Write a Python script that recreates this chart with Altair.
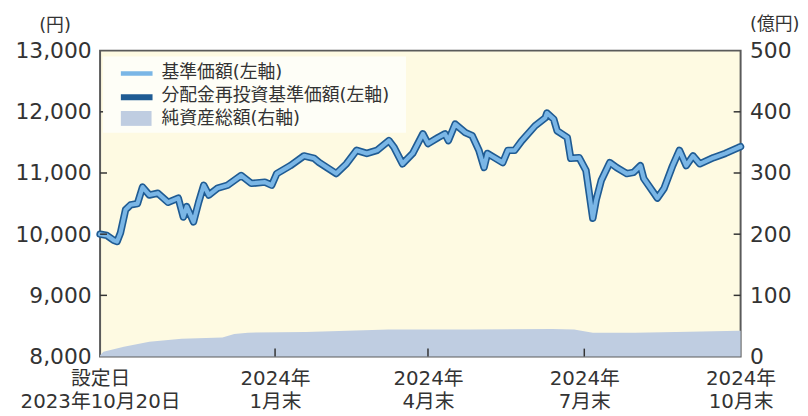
import altair as alt
import pandas as pd

# ---------------- data ----------------
nav_dates = ["2023/10/20","2023/10/24","2023/10/28","2023/10/30","2023/11/01","2023/11/04","2023/11/07","2023/11/11","2023/11/14","2023/11/18",
             "2023/11/23","2023/11/29","2023/12/05","2023/12/08","2023/12/10","2023/12/14","2023/12/17","2023/12/20","2023/12/23","2023/12/28",
             "2024/01/03","2024/01/11","2024/01/17","2024/01/25","2024/01/29","2024/02/01","2024/02/09","2024/02/17","2024/02/23","2024/02/26",
             "2024/03/07","2024/03/13","2024/03/19","2024/03/25","2024/03/31","2024/04/07","2024/04/10","2024/04/15","2024/04/21","2024/04/27",
             "2024/04/30","2024/05/06","2024/05/10","2024/05/12","2024/05/16","2024/05/22","2024/05/26","2024/05/30","2024/06/02","2024/06/04",
             "2024/06/13","2024/06/16","2024/06/20","2024/06/24","2024/07/02","2024/07/08","2024/07/09","2024/07/13","2024/07/15","2024/07/21",
             "2024/07/23","2024/07/28","2024/08/01","2024/08/05","2024/08/07","2024/08/10","2024/08/15","2024/08/19","2024/08/25","2024/08/29",
             "2024/09/02","2024/09/04","2024/09/10","2024/09/12","2024/09/16","2024/09/21","2024/09/25","2024/09/29","2024/10/03","2024/10/07",
             "2024/10/15","2024/10/22","2024/10/30","2024/10/31"]
nav_values = [10000, 9980, 9900, 9880, 10020, 10400, 10480, 10500, 10770, 10640,
              10670, 10520, 10590, 10280, 10450, 10200, 10520, 10800, 10640, 10750,
              10800, 10960, 10830, 10850, 10800, 10990, 11120, 11280, 11240, 11170,
              10990, 11150, 11370, 11320, 11370, 11530, 11420, 11150, 11320, 11640,
              11480, 11580, 11640, 11530, 11800, 11660, 11610, 11370, 11090, 11320,
              11170, 11370, 11370, 11520, 11770, 11900, 11980, 11880, 11690, 11580,
              11240, 11250, 11040, 10260, 10560, 10880, 11170, 11090, 10990, 11010,
              11120, 10910, 10670, 10590, 10750, 11120, 11370, 11120, 11280, 11150,
              11250, 11320, 11420, 11430]
# 分配金なし: 分配金再投資基準価額は基準価額と重なる
reinvest_values = [10000, 9980, 9900, 9880, 10020, 10400, 10480, 10500, 10770, 10640,
                   10670, 10520, 10590, 10280, 10450, 10200, 10520, 10800, 10640, 10750,
                   10800, 10960, 10830, 10850, 10800, 10990, 11120, 11280, 11240, 11170,
                   10990, 11150, 11370, 11320, 11370, 11530, 11420, 11150, 11320, 11640,
                   11480, 11580, 11640, 11530, 11800, 11660, 11610, 11370, 11090, 11320,
                   11170, 11370, 11370, 11520, 11770, 11900, 11980, 11880, 11690, 11580,
                   11240, 11250, 11040, 10260, 10560, 10880, 11170, 11090, 10990, 11010,
                   11120, 10910, 10670, 10590, 10750, 11120, 11370, 11120, 11280, 11150,
                   11250, 11320, 11420, 11430]

aum_dates = ["2023/10/20","2023/10/22","2023/11/03","2023/11/18","2023/12/07","2023/12/31","2024/01/07","2024/01/15",
             "2024/02/18","2024/04/07","2024/05/25","2024/07/12","2024/07/25","2024/08/05","2024/08/30","2024/09/23",
             "2024/10/30","2024/10/31"]
aum_values = [2, 8, 16, 24, 29, 31, 37, 39, 40, 44, 44, 45, 44, 39, 39, 40, 42, 42]

x_tick_dates = ["2023-10-20", "2024-01-31", "2024-04-30", "2024-07-31", "2024-10-31"]
x_tick_labels = [["設定日", "2023年10月20日"], ["2024年", "1月末"], ["2024年", "4月末"],
                 ["2024年", "7月末"], ["2024年", "10月末"]]
left_ticks = [8000, 9000, 10000, 11000, 12000, 13000]
right_ticks = [0, 100, 200, 300, 400, 500]

series_labels = ["基準価額(左軸)", "分配金再投資基準価額(左軸)", "純資産総額(右軸)"]
title_text = "(設定日(2023年10月20日)～2024年10月31日)"

# ---------------- style ----------------
FONT = "DejaVu Sans, Noto Sans CJK JP"
TXT = "#333333"
LIGHT = "#7ab6e6"
DARK = "#1f5b93"
AREA = "#bfcde1"
PLOT_BG = "#fefae2"
LEGEND_BG = "#fefef7"

line_df = pd.DataFrame({"date": nav_dates, "nav": nav_values, "reinvest": reinvest_values})
aum_df = pd.DataFrame({"date": aum_dates, "aum": aum_values})


def dt(s):
    y, m, d = s.split("-")
    return alt.DateTime(year=int(y), month=int(m), date=int(d))


label_expr = ""
for d, lab in zip(x_tick_dates, x_tick_labels):
    label_expr += f"timeFormat(datum.value, '%Y-%m-%d') == '{d}' ? ['{lab[0]}', '{lab[1]}'] : "
label_expr += "''"

x_scale = alt.Scale(domain=[dt(x_tick_dates[0]), dt(x_tick_dates[-1])], nice=False)
x_axis = alt.Axis(values=[dt(d) for d in x_tick_dates], labelExpr=label_expr, grid=False,
                  ticks=False, tickSize=0, domain=False, title=None, labelFont=FONT,
                  labelFontSize=20, labelColor=TXT, labelPadding=12, labelLineHeight=23,
                  labelFlush=False, labelOverlap=False, labelBound=False, labelBaseline="top")

left_scale = alt.Scale(domain=[8000, 13000], nice=False, zero=False)
left_axis = alt.Axis(orient="left", values=left_ticks, format=",d", grid=False, ticks=False,
                     tickSize=0, domain=False, labelFont=FONT, labelFontSize=22, labelColor=TXT,
                     labelPadding=9, labelFlush=False, title="(円)", titleAngle=0, titleX=-46,
                     titleY=-25, titleAlign="center", titleBaseline="middle", titleFont=FONT,
                     titleFontSize=18, titleFontWeight="normal", titleColor=TXT)
right_scale = alt.Scale(domain=[0, 500], nice=False)
right_axis = alt.Axis(orient="right", values=right_ticks, format="d", grid=False, ticks=False,
                      tickSize=0, domain=False, labelFont=FONT, labelFontSize=22, labelColor=TXT,
                      labelPadding=9, labelFlush=False, title="(億円)", titleAngle=0, titleX=34,
                      titleY=-26, titleAlign="center", titleBaseline="middle", titleFont=FONT,
                      titleFontSize=18, titleFontWeight="normal", titleColor=TXT)

X = alt.X("date:T", scale=x_scale, axis=x_axis)

area = alt.Chart(aum_df).mark_area(color=AREA, interpolate="linear").encode(
    x=X, y=alt.Y("aum:Q", scale=right_scale, axis=right_axis))
rticks = alt.Chart(pd.DataFrame({"v": right_ticks[1:-1]})).mark_rule(color=TXT, strokeWidth=1.5).encode(
    y=alt.Y("v:Q", scale=right_scale, axis=right_axis), x=alt.value(640), x2=alt.value(647))
right_layer = alt.layer(area, rticks)

dark = alt.Chart(line_df).mark_line(color=DARK, strokeWidth=7.5, strokeCap="round", strokeJoin="round").encode(
    x=X, y=alt.Y("reinvest:Q", scale=left_scale, axis=left_axis))
light = alt.Chart(line_df).mark_line(color=LIGHT, strokeWidth=4.2, strokeCap="round", strokeJoin="round").encode(
    x=X, y=alt.Y("nav:Q", scale=left_scale, axis=left_axis))
lticks = alt.Chart(pd.DataFrame({"v": left_ticks[1:-1]})).mark_rule(color=TXT, strokeWidth=1.5).encode(
    y=alt.Y("v:Q", scale=left_scale, axis=left_axis), x=alt.value(0), x2=alt.value(7))
left_layer = alt.layer(dark, light, lticks)

xticks = alt.Chart(pd.DataFrame({"date": [d.replace("-", "/") for d in x_tick_dates[1:-1]]})).mark_rule(
    color=TXT, strokeWidth=1.5).encode(x=X, y=alt.value(301), y2=alt.value(309))

# legend
one = pd.DataFrame({"label": [series_labels[0]]})
two = pd.DataFrame({"label": [series_labels[1]]})
three = pd.DataFrame({"label": [series_labels[2]]})
leg_bg = alt.Chart(one).mark_rect(fill=LEGEND_BG).encode(
    x=alt.value(3), x2=alt.value(309), y=alt.value(6), y2=alt.value(83))
leg1 = alt.Chart(one).mark_rule(color=LIGHT, strokeWidth=4.5).encode(
    x=alt.value(21), x2=alt.value(53), y=alt.value(23))
leg2 = alt.Chart(two).mark_rule(color=DARK, strokeWidth=6).encode(
    x=alt.value(21), x2=alt.value(53), y=alt.value(47))
leg3 = alt.Chart(three).mark_rect(fill=AREA).encode(
    x=alt.value(21), x2=alt.value(52), y=alt.value(61), y2=alt.value(76))


def leg_text(df, y):
    return alt.Chart(df).mark_text(align="left", baseline="middle", font=FONT, fontSize=18,
                                   color=TXT).encode(x=alt.value(62), y=alt.value(y), text="label:N")


chart = alt.layer(
    right_layer, left_layer, xticks, leg_bg, leg1, leg2, leg3,
    leg_text(one, 23), leg_text(two, 46), leg_text(three, 69)
).resolve_scale(y="independent").properties(
    width=647, height=309,
    autosize=alt.AutoSizeParams(type="none"),
    padding={"left": 93, "top": 41, "right": 60, "bottom": 58},
    background="#ffffff",
    title=alt.TitleParams(text=title_text, anchor="start", frame="group", dx=-96, offset=39,
                          font=FONT, fontSize=20, fontWeight="normal", color=TXT),
).configure_view(fill=PLOT_BG, stroke="#5a5a5a", strokeWidth=2)

chart.save("out.html", embed_options={"renderer": "svg", "actions": False})
